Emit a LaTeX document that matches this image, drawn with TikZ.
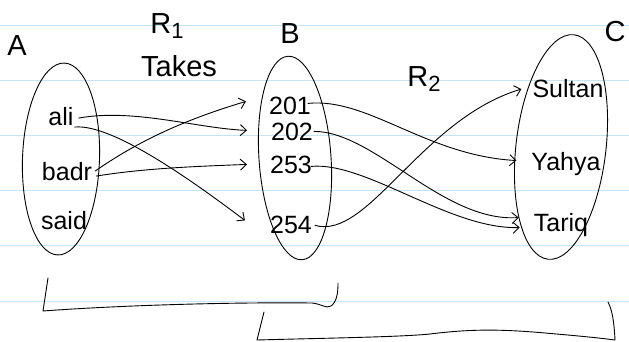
\documentclass[tikz,border=0pt]{standalone}
\usepackage{fontspec}
\setmainfont{Liberation Sans}
\usetikzlibrary{shapes.geometric,arrows.meta}
\definecolor{paperblue}{RGB}{196,228,248}
\newcommand{\lowsub}[1]{\raisebox{-5pt}{\fontsize{22}{22}\selectfont #1}}
\begin{document}
\begin{tikzpicture}[x=1pt,y=-1pt,
  ink/.style={line width=0.9pt, black, line cap=round, line join=round},
  lbl/.style={font=\fontsize{29}{29}\selectfont, inner sep=0pt, anchor=base},
  elem/.style={font=\fontsize{25}{25}\selectfont, inner sep=0pt, anchor=base},
  setshape/.style={draw, ellipse, line width=0.9pt, inner sep=0pt},
  arr/.style={ink, -{Straight Barb[length=6pt,width=11pt]}},
  paper/.style={draw=paperblue, line width=0.8pt}]
\useasboundingbox[fill=white] (0,0) rectangle (629,342);
\foreach \yy in {25,80.2,135.4,190.6,245.8,301} \draw[paper] (0,\yy) -- (629,\yy);

% sets
\node[setshape, minimum width=77pt, minimum height=192pt, rotate=-2] (setA) at (61,159) {};
\node[setshape, minimum width=72pt, minimum height=204pt, rotate=4] (setB) at (295,158) {};
\node[setshape, minimum width=90pt, minimum height=226pt, rotate=-6.6] (setC) at (561,147) {};

% labels
\node[lbl] (labA) at (17,56) {A};
\node[lbl] (labR1) at (167,34) {R\lowsub{1}};
\node[lbl] (labTakes) at (179,77) {Takes};
\node[lbl] (labB) at (290,44) {B};
\node[lbl] (labR2) at (424,87) {R\lowsub{2}};
\node[lbl] (labC) at (615,42) {C};

% elements of A
\node[elem] (ali) at (61,126) {ali};
\node[elem] (badr) at (67,180) {badr};
\node[elem] (said) at (64,229) {said};
% elements of B
\node[elem] (n201) at (290,115) {201};
\node[elem] (n202) at (292,140) {202};
\node[elem] (n253) at (291,173) {253};
\node[elem] (n254) at (291,233) {254};
% elements of C
\node[elem] (sultan) at (568,98) {Sultan};
\node[elem] (yahya) at (566,170) {Yahya};
\node[elem] (tariq) at (561,231) {Tariq};

% R1 arrows
\draw[arr] ([xshift=5pt,yshift=-1pt]ali.east) .. controls +(55,-10) and +(-50,-2) .. ([xshift=-24pt,yshift=1pt]n202.west);
\draw[arr] ([xshift=1pt,yshift=-10pt]ali.east) .. controls +(40,-4) and +(-40,-30) .. ([xshift=-25pt,yshift=4pt]n254.west);
\draw[arr] ([xshift=3pt,yshift=0pt]badr.east) .. controls +(50,-35) and +(-50,15) .. ([xshift=-23pt,yshift=5pt]n201.west);
\draw[arr] ([xshift=4pt,yshift=-5pt]badr.east) .. controls +(50,-8) and +(-50,2) .. ([xshift=-23pt,yshift=0pt]n253.west);

% R2 arrows
\draw[arr] ([xshift=-3pt,yshift=3pt]n201.east) .. controls +(60,-6) and +(-90,-5) .. ([xshift=-15pt,yshift=3pt]yahya.west);
\draw[arr] ([xshift=1pt,yshift=0pt]n202.east) .. controls +(60,0) and +(-75,5) .. ([xshift=-15pt,yshift=7pt]tariq.west);
\draw[arr] ([xshift=-1pt,yshift=-2pt]n253.east) .. controls +(55,-5) and +(-70,2) .. ([xshift=-14pt,yshift=-3pt]tariq.west);
\draw[arr] ([xshift=3pt,yshift=-1pt]n254.east) .. controls +(53,15) and +(-100,30) .. ([xshift=-11pt,yshift=0pt]sultan.west);

% brackets
\draw[ink] (48,278) -- (43,311) .. controls (110,306) and (220,302) .. (312,303)
  .. controls (322,304) and (326,309) .. (331,306) .. controls (337,302) and (338,292) .. (338,283);
\draw[ink] (264,312) -- (257,340) .. controls (330,338) and (400,337) .. (430,334)
  .. controls (470,329) and (500,329) .. (545,333) .. controls (580,336) and (600,338) .. (615,340)
  .. controls (614,320) and (612,310) .. (608,302);
\end{tikzpicture}
\end{document}
